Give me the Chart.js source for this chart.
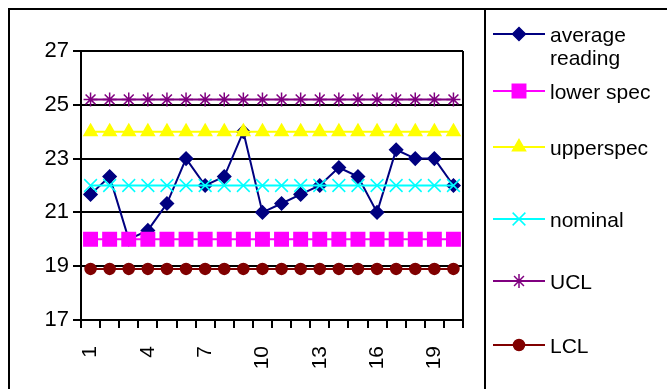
<!DOCTYPE html>
<html>
<head>
<meta charset="utf-8">
<script src="https://cdn.jsdelivr.net/npm/chart.js@4"></script>
<style>
  html, body { margin: 0; padding: 0; background: #fff; }
  #wrap { width: 671px; height: 389px; position: relative; }
</style>
</head>
<body>
<div id="wrap"><canvas id="controlChart"></canvas></div>
<script>
// samples 1..20
var samples = ['1','2','3','4','5','6','7','8','9','10','11','12','13','14','15','16','17','18','19','20'];

var averageReading = [21.67, 22.33, 20.0, 20.33, 21.33, 23.0, 22.0, 22.33, 24.0, 21.0,
                      21.33, 21.67, 22.0, 22.67, 22.33, 21.0, 23.33, 23.0, 23.0, 22.0];
var lowerSpec = [20,20,20,20,20,20,20,20,20,20,20,20,20,20,20,20,20,20,20,20];
var upperSpec = [24,24,24,24,24,24,24,24,24,24,24,24,24,24,24,24,24,24,24,24];
var nominal   = [22,22,22,22,22,22,22,22,22,22,22,22,22,22,22,22,22,22,22,22];
var ucl = [25.2,25.2,25.2,25.2,25.2,25.2,25.2,25.2,25.2,25.2,25.2,25.2,25.2,25.2,25.2,25.2,25.2,25.2,25.2,25.2];
var lcl = [18.9,18.9,18.9,18.9,18.9,18.9,18.9,18.9,18.9,18.9,18.9,18.9,18.9,18.9,18.9,18.9,18.9,18.9,18.9,18.9];

var yTicks = [17, 19, 21, 23, 25, 27];

var FONT = "'Liberation Sans', Arial, sans-serif";

function serie(label, data, color, style, radius, order) {
  return {
    label: label,
    data: data,
    borderColor: color,
    backgroundColor: color,
    borderWidth: 2,
    pointStyle: style,
    pointRadius: radius,
    pointBorderWidth: 1.5,
    pointBackgroundColor: color,
    pointBorderColor: color,
    tension: 0,
    order: order
  };
}

// legend text lines, same order as datasets
var legendLines = [['average', 'reading'], ['lower spec'], ['upperspec'], ['nominal'], ['UCL'], ['LCL']];
var legendY = [34, 91, 147, 219, 281, 345];

// frame + plot border + excel-like legend
var framePlugin = {
  id: 'frame',
  afterDraw: function(chart) {
    var ctx = chart.ctx;
    var a = chart.chartArea;
    ctx.save();
    ctx.strokeStyle = '#000';
    ctx.lineWidth = 2;
    ctx.beginPath();
    ctx.moveTo(a.right, a.top);
    ctx.lineTo(a.right, a.bottom);
    ctx.stroke();

    // outer frame
    ctx.beginPath();
    ctx.moveTo(9, 389);
    ctx.lineTo(9, 9);
    ctx.lineTo(667, 9);
    ctx.moveTo(485, 9);
    ctx.lineTo(485, 389);
    ctx.stroke();

    // legend
    chart.data.datasets.forEach(function(ds, i) {
      var y = legendY[i];
      ctx.strokeStyle = ds.borderColor;
      ctx.lineWidth = 2;
      ctx.beginPath();
      ctx.moveTo(493, y);
      ctx.lineTo(545, y);
      ctx.stroke();
      ctx.fillStyle = ds.pointBackgroundColor;
      ctx.strokeStyle = ds.pointBorderColor;
      ctx.lineWidth = ds.pointBorderWidth;
      Chart.helpers.drawPoint(ctx, {
        pointStyle: ds.pointStyle,
        radius: ds.pointRadius,
        borderWidth: ds.pointBorderWidth,
        rotation: 0
      }, 519, y);

      ctx.fillStyle = '#000';
      ctx.font = '21px ' + FONT;
      ctx.textBaseline = 'middle';
      ctx.textAlign = 'left';
      legendLines[i].forEach(function(t, k) {
        ctx.fillText(t, 550, y + 2 + k * 23);
      });
    });
    ctx.restore();
  }
};

var ctx = document.getElementById('controlChart').getContext('2d');
var myChart = new Chart(ctx, {
  type: 'line',
  data: {
    labels: samples,
    datasets: [
      serie('average reading', averageReading, '#000080', 'rectRot', 6.5, 6),
      serie('lower spec', lowerSpec, '#FF00FF', 'rect', 9.5, 5),
      serie('upperspec', upperSpec, '#FFFF00', 'triangle', 7.5, 4),
      serie('nominal', nominal, '#00FFFF', 'crossRot', 9, 3),
      serie('UCL', ucl, '#800080', 'star', 7, 2),
      serie('LCL', lcl, '#800000', 'circle', 5.5, 1)
    ]
  },
  options: {
    responsive: true,
    maintainAspectRatio: false,
    animation: false,
    layout: { padding: { left: 9, top: 51, right: 208, bottom: 0 } },
    plugins: {
      legend: { display: false },
      tooltip: { enabled: false }
    },
    scales: {
      x: {
        type: 'category',
        offset: true,
        grid: {
          offset: true,
          drawOnChartArea: false,
          drawTicks: true,
          tickLength: 8,
          color: '#000',
          lineWidth: 2
        },
        border: { display: true, color: '#000', width: 2 },
        ticks: {
          autoSkip: false,
          minRotation: 90,
          maxRotation: 90,
          padding: 18,
          color: '#000',
          font: { family: FONT, size: 21 },
          callback: function(val, i) {
            return i % 3 === 0 ? samples[i] : '';
          }
        },
        afterFit: function(scale) { scale.height = 69; }
      },
      y: {
        min: 17,
        max: 27,
        grid: {
          color: '#000',
          lineWidth: 2,
          drawTicks: true,
          tickLength: 8
        },
        border: { display: true, color: '#000', width: 2 },
        afterBuildTicks: function(scale) {
          scale.ticks = yTicks.map(function(v) { return { value: v }; });
        },
        ticks: {
          padding: 4,
          color: '#000',
          font: { family: FONT, size: 22 }
        },
        afterFit: function(scale) { scale.width = 72; }
      }
    }
  },
  plugins: [framePlugin]
});
</script>
</body>
</html>
